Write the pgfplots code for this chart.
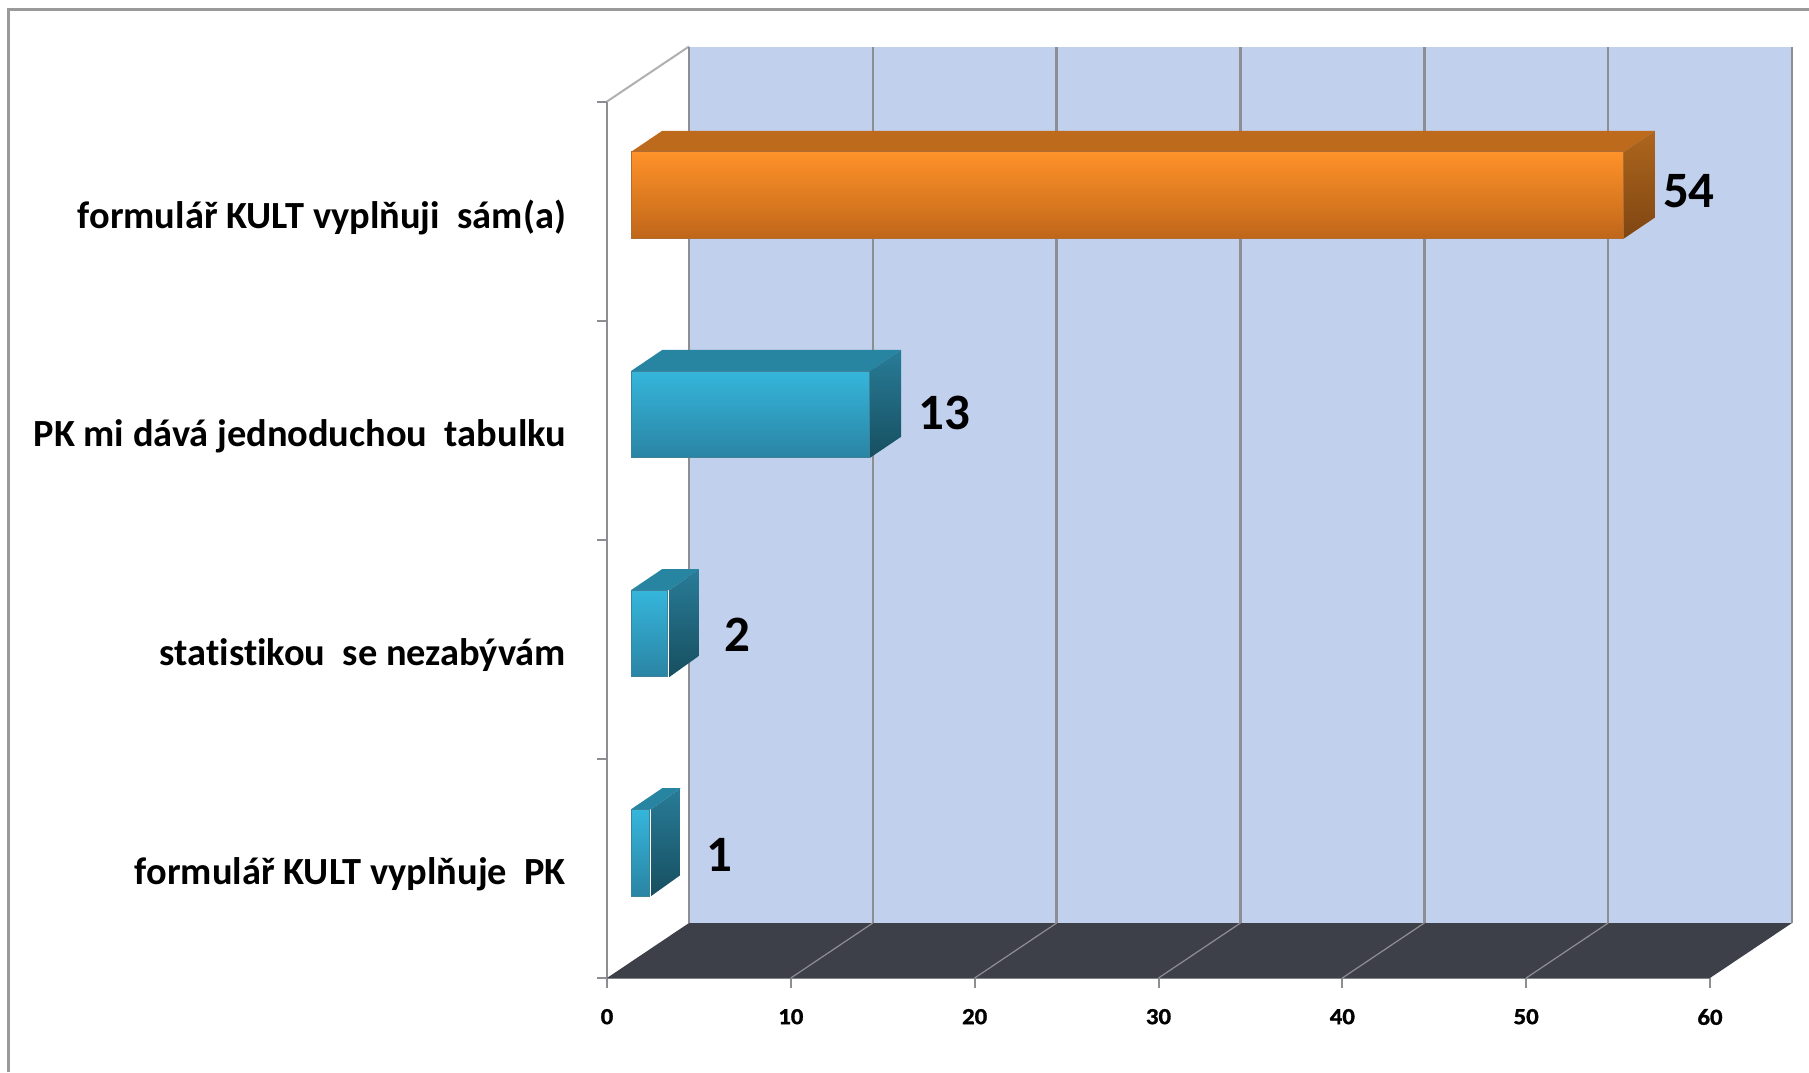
\documentclass[border=0pt]{standalone}
\usepackage{pgfplots}
\pgfplotsset{compat=1.18}
\usepackage{fontspec}
\setmainfont[Ligatures=NoCommon]{Carlito}
\newfontfamily\tickfont[BoldFeatures={FakeBold=1.2,FakeStretch=1.08}]{Carlito}
\definecolor{wall}{HTML}{C1D0EC}
\definecolor{floorc}{HTML}{3D4049}
\definecolor{gridc}{HTML}{8E8E92}
\definecolor{frame}{HTML}{9A9A9A}
\definecolor{oA}{HTML}{FF9229}
\definecolor{oB}{HTML}{E57F25}
\definecolor{oC}{HTML}{BF661A}
\definecolor{oT}{HTML}{BE6A1C}
\definecolor{oS1}{HTML}{AE661D}
\definecolor{oS2}{HTML}{7F4612}
\definecolor{tA}{HTML}{35B6DB}
\definecolor{tB}{HTML}{2F9FC2}
\definecolor{tC}{HTML}{2A84A4}
\definecolor{tT}{HTML}{2785A1}
\definecolor{tS1}{HTML}{287C98}
\definecolor{tS2}{HTML}{174F60}
\begin{document}
\begin{tikzpicture}[x=1pt,y=1pt]
\path[use as bounding box] (0,0) rectangle (904.5,536);
\draw[frame,line width=1.5pt] (4,0) -- (4,531.3) -- (904.5,531.3);
\begin{axis}[
  at={(303.5pt,47pt)},anchor=origin,
  scale only axis,width=551.5pt,height=438.25pt,
  xmin=0,xmax=60,ymin=0,ymax=4,clip=false,
  axis x line*=bottom,axis y line*=left,
  axis line style={gridc,line width=1.3pt,-},
  tick style={gridc,line width=1pt},
  tick align=outside,major tick length=5pt,
  xtick={0,10,...,60},
  ytick={0,1,2,3,4},yticklabels={,,,,},
  extra y ticks={0.5,1.5,2.5,3.5},
  extra y tick labels={formulář KULT vyplňuje\ \ PK,statistikou\ \ se nezabývám,PK mi dává jednoduchou\ \ tabulku,formulář KULT vyplňuji\ \ sám(a)},
  extra y tick style={major tick length=0pt,
    yticklabel style={font=\fontsize{19.2}{22}\selectfont\bfseries,anchor=east,xshift=-17pt,yshift=-3pt}},
  /pgf/number format/assume math mode=true,
  xticklabel style={font=\tickfont\fontsize{11.5}{13}\selectfont\bfseries,yshift=-7pt},
]
% back wall and floor
\addplot[fill=wall,draw=none,forget plot] coordinates {(4.461,0.251) (64.461,0.251) (64.461,4.251) (4.461,4.251)} -- cycle;
\addplot[fill=floorc,draw=none,forget plot] coordinates {(0,0) (60,0) (64.461,0.251) (4.461,0.251)} -- cycle;
\addplot[gridc!70,line width=1pt,forget plot] coordinates {(0,4) (4.461,4.251)};
% gridlines
\addplot[gridc,line width=1.2pt,forget plot] coordinates {(4.461,0.251) (4.461,4.251)};
\addplot[gridc,line width=1.2pt,forget plot] coordinates {(14.461,0.251) (14.461,4.251)};
\addplot[gridc,line width=1.2pt,forget plot] coordinates {(24.461,0.251) (24.461,4.251)};
\addplot[gridc,line width=1.2pt,forget plot] coordinates {(34.461,0.251) (34.461,4.251)};
\addplot[gridc,line width=1.2pt,forget plot] coordinates {(44.461,0.251) (44.461,4.251)};
\addplot[gridc,line width=1.2pt,forget plot] coordinates {(54.461,0.251) (54.461,4.251)};
\addplot[gridc,line width=1.2pt,forget plot] coordinates {(64.461,0.251) (64.461,4.251)};
\addplot[gridc,line width=.6pt,forget plot] coordinates {(10,0) (14.461,0.251)};
\addplot[gridc,line width=.6pt,forget plot] coordinates {(20,0) (24.461,0.251)};
\addplot[gridc,line width=.6pt,forget plot] coordinates {(30,0) (34.461,0.251)};
\addplot[gridc,line width=.6pt,forget plot] coordinates {(40,0) (44.461,0.251)};
\addplot[gridc,line width=.6pt,forget plot] coordinates {(50,0) (54.461,0.251)};
% bar 54
\addplot[fill=oT,draw=none,forget plot] coordinates {(1.306,3.77) (55.306,3.77) (57.0,3.866) (3.0,3.866)} -- cycle;
\addplot[draw=none,top color=oS1,bottom color=oS2,forget plot] coordinates {(55.306,3.77) (57.0,3.866) (57.0,3.47) (55.306,3.374)} -- cycle;
% bar 13
\addplot[fill=tT,draw=none,forget plot] coordinates {(1.306,2.77) (14.306,2.77) (16.0,2.866) (3.0,2.866)} -- cycle;
\addplot[draw=none,top color=tS1,bottom color=tS2,forget plot] coordinates {(14.306,2.77) (16.0,2.866) (16.0,2.47) (14.306,2.374)} -- cycle;
% bar 2
\addplot[fill=tT,draw=none,forget plot] coordinates {(1.306,1.77) (3.4,1.77) (5.0,1.866) (3.0,1.866)} -- cycle;
\addplot[draw=none,top color=tS1,bottom color=tS2,forget plot] coordinates {(3.4,1.77) (5.0,1.866) (5.0,1.47) (3.4,1.374)} -- cycle;
% bar 1
\addplot[fill=tT,draw=none,forget plot] coordinates {(1.306,0.77) (2.4,0.77) (4.0,0.866) (3.0,0.866)} -- cycle;
\addplot[draw=none,top color=tS1,bottom color=tS2,forget plot] coordinates {(2.4,0.77) (4.0,0.866) (4.0,0.47) (2.4,0.374)} -- cycle;
% front faces
\addplot[xbar,bar width=43.4pt,bar shift=0pt,xshift=12pt,draw=oC!75!gray,line width=.5pt,top color=oA,middle color=oB,bottom color=oC,forget plot] coordinates {(54,3.572)};
\addplot[xbar,bar width=43.4pt,bar shift=0pt,xshift=12pt,draw=tC!75!gray,line width=.5pt,top color=tA,middle color=tB,bottom color=tC,forget plot] coordinates {(13,2.572)};
\addplot[xbar,bar width=43.4pt,bar shift=0pt,xshift=12pt,draw=tC!75!gray,line width=.5pt,top color=tA,middle color=tB,bottom color=tC,forget plot] coordinates {(2,1.572)};
\addplot[xbar,bar width=43.4pt,bar shift=0pt,xshift=12pt,draw=tC!75!gray,line width=.5pt,top color=tA,middle color=tB,bottom color=tC,forget plot] coordinates {(1,0.572)};
% labels
\node[font=\fontsize{25.5}{28}\selectfont\bfseries] at (axis cs:58.85,3.589) {54};
\node[font=\fontsize{25.5}{28}\selectfont\bfseries] at (axis cs:18.35,2.578) {13};
\node[font=\fontsize{25.5}{28}\selectfont\bfseries] at (axis cs:7.07,1.568) {2};
\node[font=\fontsize{25.5}{28}\selectfont\bfseries] at (axis cs:6.1,0.561) {1};
\end{axis}
\end{tikzpicture}
\end{document}
